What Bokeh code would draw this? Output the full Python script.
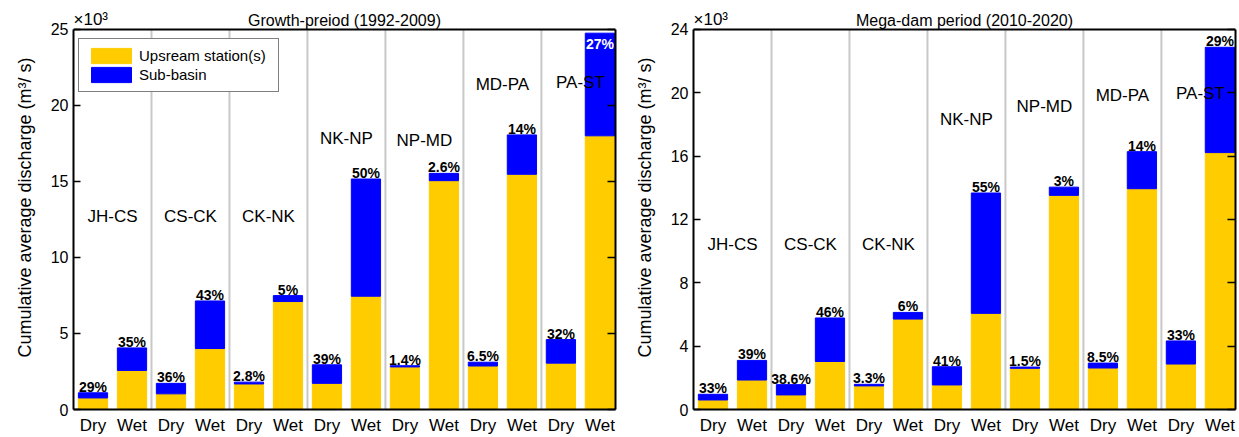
from bokeh.plotting import figure
from bokeh.models import (ColumnDataSource, FixedTicker, LinearAxis, Label, Range1d, Legend,
                          LegendItem, Span, Title)
from bokeh.layouts import row
from bokeh.embed import file_html
from bokeh.resources import INLINE
from bokeh.core.properties import value

# ---------------- data (x10^3 m3/s) ----------------
groups = ["JH-CS", "CS-CK", "CK-NK", "NK-NP", "NP-MD", "MD-PA", "PA-ST"]
seasons = ["Dry", "Wet"]

# Growth period (1992-2009)
g_up_dry = [0.76, 1.03, 1.68, 1.72, 2.80, 2.86, 3.05]
g_sub_dry = [0.34, 0.69, 0.12, 1.22, 0.08, 0.25, 1.55]
g_up_wet = [2.57, 4.01, 7.10, 7.45, 15.05, 15.47, 18.00]
g_sub_wet = [1.48, 3.13, 0.39, 7.71, 0.48, 2.59, 6.75]
g_pct_dry = ["29%", "36%", "2.8%", "39%", "1.4%", "6.5%", "32%"]
g_pct_wet = ["35%", "43%", "5%", "50%", "2.6%", "14%", "27%"]

# Mega-dam period (2010-2020)
m_up_dry = [0.60, 0.92, 1.49, 1.55, 2.60, 2.62, 2.87]
m_sub_dry = [0.36, 0.65, 0.10, 1.15, 0.08, 0.31, 1.46]
m_up_wet = [1.86, 3.03, 5.71, 6.07, 13.52, 13.94, 16.22]
m_sub_wet = [1.24, 2.75, 0.42, 7.60, 0.52, 2.34, 6.65]
m_pct_dry = ["33%", "38.6%", "3.3%", "41%", "1.5%", "8.5%", "33%"]
m_pct_wet = ["39%", "46%", "6%", "55%", "3%", "14%", "29%"]

# text placement of the sub-basin names (data units)
g_name_y = [12.7, 12.7, 12.7, 17.8, 17.7, 21.4, 21.5]
m_name_y = [10.4, 10.4, 10.4, 18.3, 19.15, 19.8, 19.93]

YELLOW = "#FFCC00"
BLUE = "#0000FF"
FONT = "Liberation Sans"
X0, X1 = 0.5, 14.4
FIG_H = 437
TOP, BOTTOM = 5, 26          # frame extends above the axes box so the header texts are drawn
BOX_H = 382                  # pixel height of the axes box (0 .. ymax)
FRAME_H = FIG_H - TOP - BOTTOM


def make_panel(title, up_dry, sub_dry, up_wet, sub_wet, pct_dry, pct_wet,
               ymax, ystep, name_y, with_legend, width, min_left, min_right):
    xs, up, sub, pct, lab = [], [], [], [], []
    for i in range(len(groups)):
        xs += [2 * i + 1, 2 * i + 2]
        up += [up_dry[i], up_wet[i]]
        sub += [sub_dry[i], sub_wet[i]]
        pct += [pct_dry[i], pct_wet[i]]
        lab += seasons
    total = [a + b for a, b in zip(up, sub)]
    src = ColumnDataSource(dict(x=xs, up=up, total=total))
    ytop = ymax * FRAME_H / BOX_H

    p = figure(width=width, height=FIG_H, x_range=Range1d(X0, X1), y_range=Range1d(0, ytop),
               output_backend="svg", toolbar_location=None,
               min_border_left=min_left, min_border_right=min_right,
               min_border_top=TOP, min_border_bottom=BOTTOM)
    p.background_fill_color = "white"
    p.border_fill_color = "white"
    p.outline_line_color = None
    p.xgrid.visible = False
    p.ygrid.visible = False

    # separators between sub-basins
    seps = [2 * i + 2.5 for i in range(len(groups) - 1)]
    sep_src = ColumnDataSource(dict(x=seps, y0=[0] * len(seps), y1=[ymax] * len(seps)))
    p.segment(x0="x", y0="y0", x1="x", y1="y1", source=sep_src,
              line_color="#c8c8c8", line_width=2)

    r_up = p.vbar(x="x", top="up", bottom=0, width=0.75, source=src,
                  fill_color=YELLOW, line_color=YELLOW, line_width=1)
    r_sub = p.vbar(x="x", top="total", bottom="up", width=0.75, source=src,
                   fill_color=BLUE, line_color=BLUE, line_width=1)

    # top edge of the axes box
    p.add_layout(Span(location=ymax, dimension="width", line_color="black", line_width=2))

    # percentage labels: above the bar, or inside it when the bar reaches the top
    out_idx = [i for i, t in enumerate(total) if t <= 0.96 * ymax]
    in_idx = [i for i, t in enumerate(total) if t > 0.96 * ymax]
    src_out = ColumnDataSource(dict(x=[xs[i] for i in out_idx], y=[total[i] for i in out_idx],
                                    t=[pct[i] for i in out_idx]))
    src_in = ColumnDataSource(dict(x=[xs[i] for i in in_idx], y=[total[i] for i in in_idx],
                                   t=[pct[i] for i in in_idx]))
    p.text(x="x", y="y", text="t", source=src_out, text_align="center",
           text_baseline="bottom", y_offset=2, text_font=value(FONT), text_font_style="bold",
           text_font_size="14px", text_color="black")
    p.text(x="x", y="y", text="t", source=src_in, text_align="center",
           text_baseline="top", y_offset=3, text_font=value(FONT), text_font_style="bold",
           text_font_size="14px", text_color="white")

    # sub-basin names
    name_src = ColumnDataSource(dict(x=[2 * i + 1.5 for i in range(len(groups))], y=name_y, t=groups))
    p.text(x="x", y="y", text="t", source=name_src, text_align="center", text_baseline="middle",
           text_font=value(FONT), text_font_size="17px", text_color="black")

    # x axis
    xa = p.xaxis[0]
    xa.ticker = FixedTicker(ticks=xs)
    xa.major_label_overrides = {x: l for x, l in zip(xs, lab)}
    xa.major_label_text_font = FONT
    xa.major_label_text_font_size = "17px"
    xa.major_label_text_color = "black"
    xa.major_label_standoff = 6
    xa.major_tick_in = 0
    xa.major_tick_out = 0
    xa.major_tick_line_color = None
    xa.minor_tick_line_color = None
    xa.axis_line_width = 2
    xa.axis_line_color = "black"

    # y axis
    yt = list(range(0, ymax + 1, ystep))
    ya = p.yaxis[0]
    ya.ticker = FixedTicker(ticks=yt)
    ya.bounds = (0, ymax)
    ya.major_tick_in = 7
    ya.major_tick_out = 0
    ya.major_tick_line_width = 1.5
    ya.major_tick_line_color = "black"
    ya.minor_tick_line_color = None
    ya.axis_line_width = 2
    ya.axis_line_color = "black"
    ya.major_label_text_font = FONT
    ya.major_label_text_font_size = "16px"
    ya.major_label_text_color = "black"
    ya.major_label_standoff = 5

    ra = LinearAxis(ticker=FixedTicker(ticks=yt), bounds=(0, ymax), major_tick_in=8,
                    major_tick_out=0, major_tick_line_width=1.5, minor_tick_line_color=None,
                    major_label_text_font_size="1px", major_label_text_color=None,
                    major_label_standoff=0, axis_line_width=2, axis_line_color="black")
    p.add_layout(ra, "right")

    # y axis title, centred on the axes box rather than on the taller frame
    p.add_layout(Title(text="Cumulative average discharge (m³/ s)", align="center",
                       offset=-(FRAME_H - BOX_H) / 2, standoff=25, text_font=FONT,
                       text_font_size="18px", text_font_style="normal", text_color="black"),
                 "left")

    # panel title and multiplier
    p.add_layout(Label(x=(X0 + X1) / 2, y=ymax, text=title, text_align="center",
                       text_baseline="bottom", text_font=FONT,
                       text_font_size="16px", text_color="black"))
    p.add_layout(Label(x=X0, y=ymax, text="×10³", text_align="left",
                       text_baseline="bottom", text_font=FONT,
                       text_font_size="17px", text_color="black"))

    if with_legend:
        leg = Legend(items=[LegendItem(label="Upsream station(s)", renderers=[r_up]),
                            LegendItem(label="Sub-basin", renderers=[r_sub])],
                     location=(5, 317), margin=0, padding=7, spacing=0,
                     glyph_width=50, glyph_height=19, label_height=19, label_width=132,
                     label_standoff=3, label_text_font=FONT, label_text_font_size="15px",
                     label_text_color="black", border_line_color="black",
                     border_line_width=1.5, background_fill_color="white",
                     background_fill_alpha=1)
        p.add_layout(leg)
    return p


p1 = make_panel("Growth-preiod (1992-2009)", g_up_dry, g_sub_dry, g_up_wet, g_sub_wet,
                g_pct_dry, g_pct_wet, 25, 5, g_name_y, True, 620, 73, 5)
p2 = make_panel("Mega-dam period (2010-2020)", m_up_dry, m_sub_dry, m_up_wet, m_sub_wet,
                m_pct_dry, m_pct_wet, 24, 4, m_name_y, False, 619, 73, 4)

layout = row(p1, p2)
open("out.html", "w").write(file_html(layout, INLINE))
